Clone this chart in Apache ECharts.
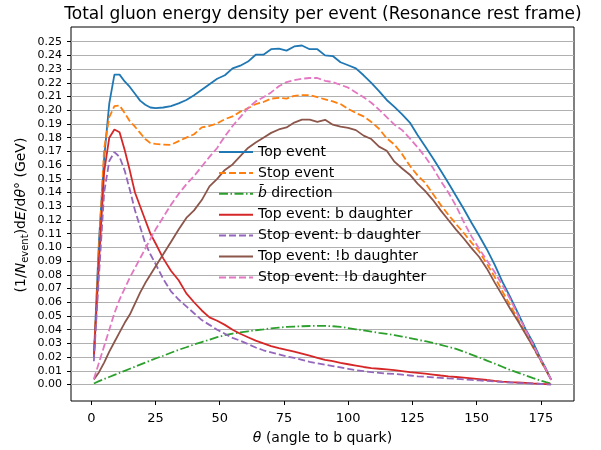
<!DOCTYPE html>
<html>
<head>
<meta charset="utf-8">
<script src="https://cdn.jsdelivr.net/npm/echarts@6/dist/echarts.min.js"></script>
<style>
  html, body { margin: 0; padding: 0; background: #fff; }
  #main { width: 601px; height: 450px; }
</style>
</head>
<body>
<div id="main"></div>
<script>
// angle bins (degrees)
const theta = [1, 3, 5, 7, 9, 11, 13, 15, 17, 19, 21, 23, 25,
  28, 31, 34, 37, 40, 43, 46, 49, 52, 55, 58, 61, 64, 67, 70, 73, 76, 79, 82, 85, 88, 91, 94, 97, 100,
  103, 106, 109, 112, 115, 118, 121, 124, 127, 130, 133, 136, 139, 142, 145, 148, 151, 154, 157, 160,
  163, 166, 169, 172, 175, 177, 179];

const topEvent = [0.020, 0.105, 0.165, 0.205, 0.226, 0.226, 0.221, 0.217, 0.212, 0.207, 0.204, 0.202, 0.2015,
  0.202, 0.203, 0.205, 0.2075, 0.211, 0.215, 0.219, 0.223, 0.2255, 0.2305, 0.2325, 0.2355, 0.2405, 0.2405, 0.2445, 0.245,
  0.2435, 0.2465, 0.2472, 0.2445, 0.2445, 0.240, 0.2395, 0.235, 0.2328, 0.2305, 0.2255, 0.220, 0.214, 0.2075, 0.2025,
  0.197, 0.191, 0.182, 0.1735, 0.165, 0.156, 0.147, 0.1375, 0.128, 0.118, 0.1085, 0.0985, 0.0875, 0.075, 0.064, 0.0525,
  0.0405, 0.0305, 0.0185, 0.0115, 0.0035];

const stopEvent = [0.020, 0.100, 0.172, 0.195, 0.203, 0.2035, 0.198, 0.192, 0.188, 0.1835, 0.179, 0.176, 0.1755,
  0.175, 0.1748, 0.1775, 0.180, 0.1825, 0.1875, 0.1885, 0.1905, 0.1935, 0.1955, 0.199, 0.2015, 0.2045, 0.206, 0.2085, 0.209,
  0.2085, 0.2105, 0.211, 0.211, 0.2095, 0.208, 0.2065, 0.2045, 0.201, 0.198, 0.1955, 0.1915, 0.1865, 0.1795, 0.175,
  0.168, 0.1595, 0.1525, 0.147, 0.139, 0.131, 0.1238, 0.117, 0.1105, 0.1035, 0.097, 0.088, 0.0785, 0.068, 0.058, 0.048,
  0.0375, 0.027, 0.017, 0.0105, 0.0035];

const bbarDir = [0.0008, 0.0025, 0.004, 0.0055, 0.007, 0.0085, 0.010, 0.0115, 0.013, 0.0145, 0.016, 0.0175, 0.019,
  0.021, 0.0232, 0.0253, 0.0272, 0.0292, 0.031, 0.0327, 0.0345, 0.036, 0.0372, 0.038, 0.0388, 0.0396, 0.0402, 0.041, 0.0415,
  0.042, 0.0423, 0.0425, 0.0427, 0.0428, 0.0428, 0.0425, 0.042, 0.0412, 0.0403, 0.0395, 0.0386, 0.0377, 0.037, 0.036,
  0.035, 0.0339, 0.0327, 0.0316, 0.0303, 0.029, 0.0275, 0.026, 0.024, 0.0218, 0.0197, 0.0175, 0.0153, 0.013, 0.0107, 0.0087,
  0.0067, 0.0047, 0.0028, 0.0017, 0.0007];

const topB = [0.020, 0.090, 0.155, 0.180, 0.186, 0.184, 0.171, 0.156, 0.140, 0.130, 0.120, 0.110, 0.103,
  0.092, 0.083, 0.076, 0.0665, 0.060, 0.054, 0.049, 0.0465, 0.0435, 0.040, 0.037, 0.0345, 0.032, 0.030, 0.028, 0.0265,
  0.0252, 0.024, 0.0225, 0.021, 0.0195, 0.018, 0.017, 0.0158, 0.0148, 0.0138, 0.0128, 0.012, 0.0115, 0.011, 0.0105,
  0.0098, 0.009, 0.0085, 0.008, 0.0073, 0.0066, 0.006, 0.0055, 0.005, 0.0045, 0.004, 0.0033, 0.0027, 0.0022, 0.0018, 0.0015,
  0.0012, 0.0008, 0.0005, 0.0003, 0.0001];

const stopB = [0.017, 0.080, 0.140, 0.163, 0.1695, 0.166, 0.156, 0.142, 0.127, 0.115, 0.103, 0.095, 0.088,
  0.077, 0.068, 0.062, 0.057, 0.052, 0.047, 0.0435, 0.040, 0.037, 0.034, 0.032, 0.0295, 0.027, 0.025, 0.0235, 0.022,
  0.0205, 0.0195, 0.018, 0.0165, 0.0155, 0.0145, 0.0135, 0.0125, 0.0115, 0.0105, 0.0098, 0.009, 0.0085, 0.008, 0.0077,
  0.0072, 0.0066, 0.006, 0.0057, 0.0053, 0.0049, 0.0045, 0.0042, 0.0038, 0.0034, 0.003, 0.0026, 0.0022, 0.0018, 0.0015, 0.0012,
  0.001, 0.0007, 0.0004, 0.0002, 0.0001];

const topNotB = [0.0036, 0.009, 0.016, 0.024, 0.031, 0.038, 0.045, 0.051, 0.059, 0.067, 0.074, 0.080, 0.086,
  0.095, 0.104, 0.113, 0.1215, 0.127, 0.1345, 0.1445, 0.150, 0.1565, 0.1605, 0.1665, 0.1725, 0.1765, 0.180, 0.1835, 0.186,
  0.1875, 0.191, 0.1932, 0.1932, 0.1915, 0.193, 0.1895, 0.188, 0.1872, 0.1855, 0.1815, 0.179, 0.1735, 0.1705, 0.1625,
  0.1575, 0.153, 0.1465, 0.141, 0.1345, 0.127, 0.120, 0.113, 0.1065, 0.0995, 0.093, 0.0845, 0.0745, 0.065, 0.0555, 0.0465,
  0.037, 0.0275, 0.0175, 0.0105, 0.0035];

const stopNotB = [0.004, 0.016, 0.028, 0.040, 0.052, 0.062, 0.070, 0.078, 0.085, 0.092, 0.099, 0.106, 0.113,
  0.122, 0.131, 0.139, 0.146, 0.152, 0.159, 0.166, 0.1725, 0.181, 0.1885, 0.195, 0.2015, 0.2065, 0.2095, 0.213, 0.2175,
  0.2205, 0.222, 0.223, 0.2235, 0.2235, 0.2215, 0.2205, 0.2185, 0.2165, 0.213, 0.2095, 0.2055, 0.2005, 0.195, 0.1895,
  0.1855, 0.1795, 0.173, 0.166, 0.158, 0.1485, 0.140, 0.1302, 0.1185, 0.108, 0.099, 0.0905, 0.082, 0.0725, 0.0625, 0.051,
  0.040, 0.029, 0.018, 0.011, 0.0035];

const seriesNames = ['Top event', 'Stop event', 'b\u0304 direction', 'Top event: b daughter',
  'Stop event: b daughter', 'Top event: !b daughter', 'Stop event: !b daughter'];
const seriesData = [topEvent, stopEvent, bbarDir, topB, stopB, topNotB, stopNotB];
const colors = ['#1f77b4', '#ff7f0e', '#2ca02c', '#d62728', '#9467bd', '#8c564b', '#e377c2'];
const dashes = ['solid', [7, 3], [9, 2.5, 1.5, 2.5], 'solid', [7, 3], 'solid', [7, 3]];

const xTicks = [0, 25, 50, 75, 100, 125, 150, 175];
const yTicks = [];
for (let i = 0; i <= 25; i++) yTicks.push(+(i * 0.01).toFixed(2));

const font = 'DejaVu Sans';
const myChart = echarts.init(document.getElementById('main'));

const series = seriesNames.map((name, k) => ({
  name: name,
  type: 'line',
  symbol: 'none',
  showSymbol: false,
  smooth: false,
  data: theta.map((t, i) => [t, seriesData[k][i]]),
  lineStyle: { color: colors[k], width: 1.8, type: dashes[k] },
  itemStyle: { color: colors[k] }
}));

const option = {
  animation: false,
  backgroundColor: '#fff',
  title: {
    text: 'Total gluon energy density per event (Resonance rest frame)',
    left: 323,
    textAlign: 'center',
    top: 6,
    padding: 0,
    textStyle: { fontFamily: font, fontSize: 17, fontWeight: 'normal', color: '#000' }
  },
  legend: {
    orient: 'vertical',
    left: 218,
    top: 145,
    padding: 0,
    itemWidth: 34,
    itemHeight: 14,
    itemGap: 6.9,
    itemStyle: { opacity: 0, borderWidth: 0 },
    data: seriesNames,
    formatter: function (name) {
      if (name.indexOf('direction') >= 0) return '{i|b\u0304} direction';
      return name;
    },
    textStyle: {
      fontFamily: font, fontSize: 14, color: '#000',
      rich: { i: { fontFamily: font, fontSize: 14, fontStyle: 'italic', color: '#000' } }
    }
  },
  grid: {
    left: 71, right: 27, top: 27, bottom: 47,
    show: true, borderColor: '#000', borderWidth: 1, backgroundColor: 'transparent'
  },
  xAxis: {
    type: 'value',
    min: -7.9,
    max: 187.9,
    name: '{i|\u03b8} (angle to b quark)',
    nameLocation: 'middle',
    nameGap: 30,
    nameTextStyle: {
      fontFamily: font, fontSize: 14, color: '#000',
      rich: { i: { fontFamily: font, fontSize: 14, fontStyle: 'italic', color: '#000' } }
    },
    axisLine: { show: false, onZero: false },
    axisTick: { show: true, customValues: xTicks, length: 4, lineStyle: { color: '#000' } },
    axisLabel: { customValues: xTicks, margin: 11, fontFamily: font, fontSize: 13, color: '#000' },
    splitLine: { show: false }
  },
  yAxis: {
    type: 'value',
    min: -0.012,
    max: 0.2607,
    axisLine: { show: false, onZero: false },
    axisTick: { show: true, customValues: yTicks, length: 4, lineStyle: { color: '#000' } },
    axisLabel: {
      customValues: yTicks, margin: 9, fontFamily: font, fontSize: 11, color: '#000',
      formatter: v => v.toFixed(2)
    },
    splitLine: { show: true, lineStyle: { color: '#b0b0b0', width: 1 } }
  },
  graphic: [{
    type: 'text',
    x: 21,
    y: 215,
    rotation: Math.PI / 2,
    style: {
      text: '(1/{i|N}{sub|event})d{i|E}/d{i|\u03b8}\u00b0 (GeV)',
      fontFamily: font, fontSize: 14, fill: '#000',
      align: 'center', verticalAlign: 'middle',
      rich: {
        i: { fontFamily: font, fontSize: 14, fontStyle: 'italic', fill: '#000', lineHeight: 18 },
        sub: { fontFamily: font, fontSize: 10, fill: '#000', verticalAlign: 'bottom', lineHeight: 10 }
      }
    }
  }],
  series: series
};

myChart.setOption(option, true);
</script>
</body>
</html>
